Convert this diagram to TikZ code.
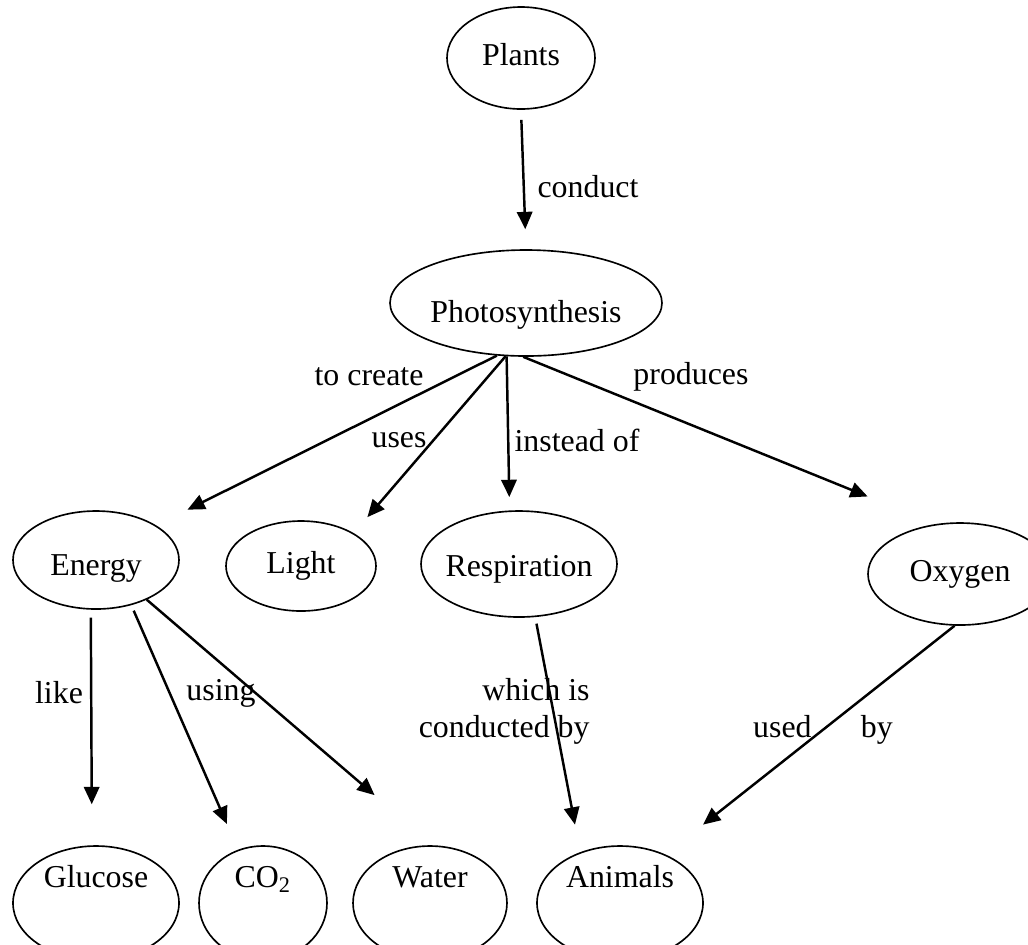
\documentclass[tikz,border=0pt]{standalone}
\usepackage{fontspec}
\setmainfont{Liberation Serif}
\usepackage{tikz}
\usetikzlibrary{shapes.geometric, arrows.meta, calc}

\tikzset{
  concept/.style={draw, ellipse, inner sep=0pt, line width=0.7pt, text height=9pt, text depth=3pt},
  lowtext/.style={text depth=22pt},
  arr/.style={-{Triangle[length=0.26cm, width=0.23cm]}, line width=1.05pt},
  linklabel/.style={inner sep=0pt}
}

\begin{document}
\begin{tikzpicture}[font=\fontsize{13.6}{16}\selectfont]
  \useasboundingbox (0, 0) rectangle (15.42, -14.16);
  \clip (0, 0) rectangle (15.42, -14.16);

  % Top of the map
  \node[concept, minimum width=2.22cm, minimum height=1.53cm] (plants) at (7.815, -0.87) {Plants};
  \node[concept, minimum width=4.08cm, minimum height=1.59cm, text height=20pt] (photo) at (7.89, -4.545) {Photosynthesis};

  % Middle row
  \node[concept, minimum width=2.49cm, minimum height=1.47cm, text height=16pt] (energy) at (1.44, -8.4) {Energy};
  \node[concept, minimum width=2.25cm, minimum height=1.35cm] (light) at (4.515, -8.49) {Light};
  \node[concept, minimum width=2.94cm, minimum height=1.59cm, inner xsep=-3pt, text height=14pt] (resp) at (7.785, -8.46) {Respiration};
  \node[concept, minimum width=2.76cm, minimum height=1.53cm] (oxygen) at (14.4, -8.61) {Oxygen};

  % Bottom row
  \node[concept, lowtext, minimum width=2.49cm, minimum height=1.71cm] (glucose) at (1.44, -13.545) {Glucose};
  \node[concept, lowtext, minimum width=1.92cm, minimum height=1.71cm] (co2) at (3.945, -13.545) {CO\textsubscript{2}};
  \node[concept, lowtext, minimum width=2.31cm, minimum height=1.71cm] (water) at (6.45, -13.545) {Water};
  \node[concept, lowtext, minimum width=2.49cm, minimum height=1.71cm] (animals) at (9.3, -13.545) {Animals};

  % Links
  \draw[arr, shorten <=0.15cm, shorten >=0.3cm] (plants.south) -- (photo.north);
  \draw[arr, shorten >=0.525cm] (photo.241) -- (energy.30);
  \draw[arr, shorten >=0.315cm] (photo.249) -- (light.32);
  \draw[arr, shorten >=0.2cm] (photo.250) -- (resp.100);
  \draw[arr, shorten >=1.1cm] (photo.267) -- (oxygen.116);
  \draw[arr, shorten <=0.12cm, shorten >=0.615cm] (energy.264) -- (glucose.94);
  \draw[arr, shorten <=0.09cm, shorten >=0.42cm] (energy.308) -- (co2.115);
  \draw[arr, shorten >=1.155cm] (energy.322) -- (water.87);
  \draw[arr, shorten <=0.1cm, shorten >=0.42cm] (resp.287) -- (animals.128);
  \draw[arr, shorten >=0.72cm] (oxygen.264) -- (animals.47);

  % Link labels
  \node[linklabel] (lconduct) at (8.82, -2.805) {conduct};
  \node[linklabel] (lcreate) at (5.535, -5.655) {to create};
  \node[linklabel] (lproduces) at (10.365, -5.655) {produces};
  \node[linklabel] (luses) at (5.985, -6.6) {uses};
  \node[linklabel] (linstead) at (8.655, -6.6) {instead of};
  \node[linklabel] (llike) at (0.885, -10.395) {like};
  \node[linklabel] (lusing) at (3.315, -10.395) {using};
  \node[linklabel, align=right, anchor=east] (lconducted) at (8.85, -10.67) {which is\\conducted by};
  \node[linklabel] (lused) at (12.345, -10.95) {used\hspace{0.74cm}by};
\end{tikzpicture}
\end{document}
